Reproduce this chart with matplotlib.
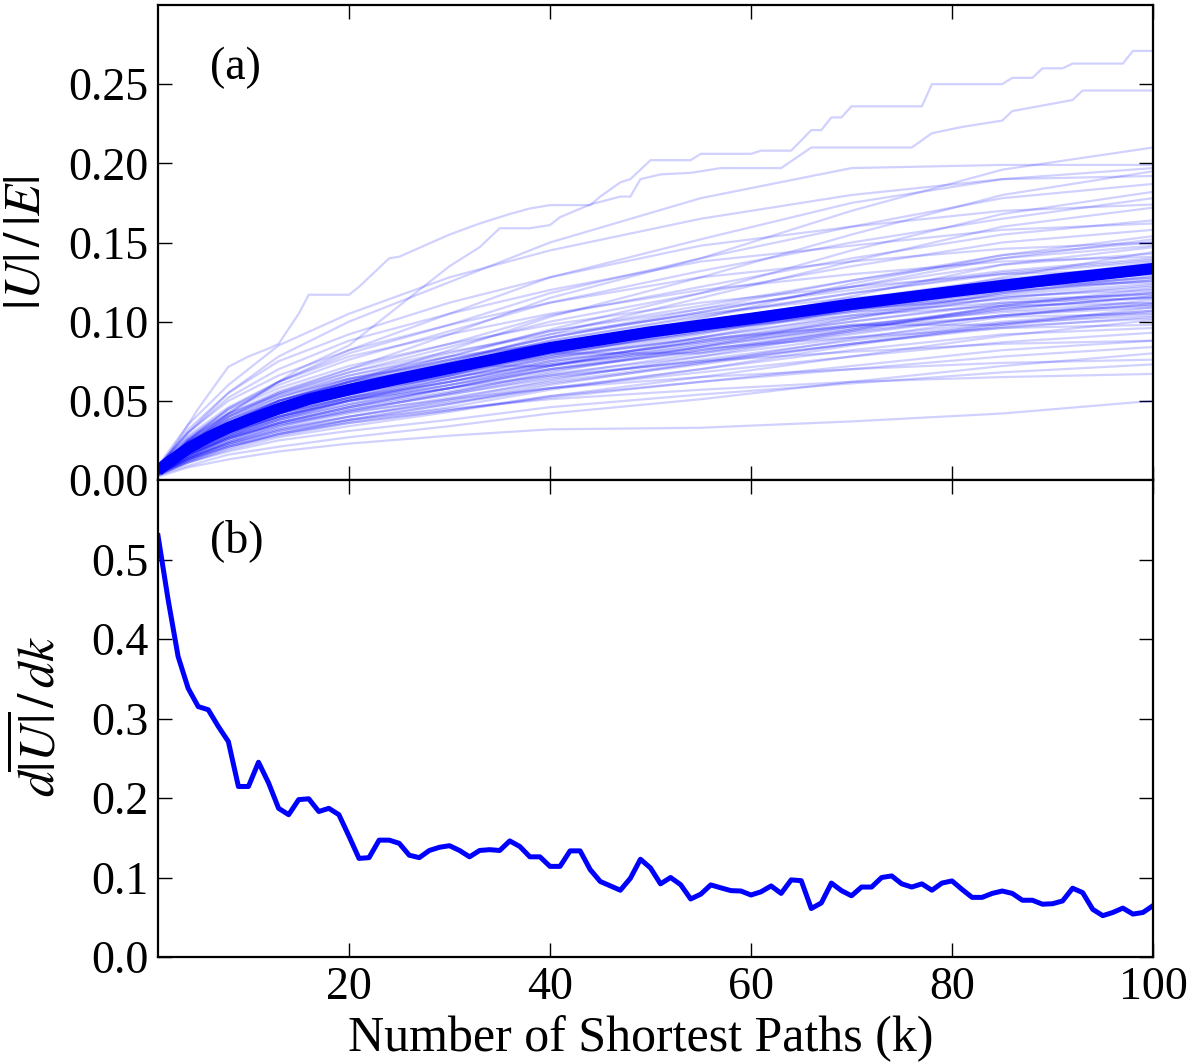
import matplotlib
matplotlib.use("Agg")
import matplotlib.pyplot as plt
import numpy as np

# ---------------- data ----------------
# k grid for individual trials (top panel)
K_TRIAL = [1, 4, 8, 13, 20, 30, 40, 55, 70, 85, 100]
# individual trial curves of |U|/|E|, in thousandths
TRIALS_MILLI = [
    [7, 24, 40, 55, 70, 92, 115, 140, 170, 196, 210],
    [8, 30, 55, 78, 100, 125, 150, 178, 197, 199, 199],
    [6, 22, 42, 62, 82, 105, 128, 152, 175, 190, 197],
    [5, 18, 33, 48, 62, 82, 103, 128, 155, 180, 195],
    [9, 35, 60, 85, 105, 128, 145, 165, 180, 190, 192],
    [5, 25, 45, 62, 80, 98, 118, 140, 160, 178, 187],
    [6, 20, 35, 50, 62, 78, 95, 118, 145, 168, 182],
    [7, 26, 45, 60, 76, 94, 112, 132, 150, 165, 178],
    [8, 32, 55, 75, 92, 112, 128, 148, 160, 170, 174],
    [5, 17, 30, 44, 58, 74, 92, 115, 138, 160, 172],
    [6, 25, 42, 56, 70, 86, 104, 122, 140, 155, 164],
    [9, 30, 52, 70, 88, 105, 120, 138, 148, 158, 162],
    [6, 22, 40, 54, 68, 84, 100, 118, 135, 150, 158],
    [5, 16, 28, 40, 52, 66, 82, 102, 124, 142, 154],
    [8, 30, 50, 66, 82, 98, 112, 128, 138, 146, 150],
    [6, 22, 36, 50, 64, 78, 94, 110, 126, 140, 148],
    [4, 15, 27, 38, 50, 64, 78, 96, 116, 136, 147],
    [7, 21, 36, 49, 62, 76, 90, 106, 122, 136, 143],
    [8, 28, 46, 62, 78, 92, 105, 120, 130, 138, 141],
    [5, 20, 34, 47, 60, 73, 88, 103, 118, 131, 139],
    [4, 14, 26, 36, 46, 58, 72, 90, 108, 126, 137],
    [6, 20, 34, 46, 58, 71, 85, 100, 114, 127, 135],
    [9, 27, 44, 58, 72, 86, 98, 112, 122, 130, 133],
    [5, 19, 32, 44, 56, 68, 82, 96, 110, 123, 131],
    [4, 13, 24, 34, 43, 55, 68, 84, 102, 118, 129],
    [6, 19, 32, 43, 54, 66, 80, 93, 107, 119, 127],
    [7, 25, 41, 55, 68, 81, 92, 105, 115, 122, 125],
    [5, 18, 30, 42, 52, 64, 77, 90, 103, 115, 123],
    [4, 13, 23, 32, 40, 51, 63, 78, 94, 110, 121],
    [6, 18, 30, 40, 51, 62, 75, 87, 100, 111, 119],
    [8, 24, 39, 52, 64, 76, 87, 99, 108, 114, 117],
    [5, 17, 29, 39, 50, 60, 73, 85, 97, 108, 116],
    [4, 12, 22, 30, 38, 48, 60, 74, 89, 103, 114],
    [7, 23, 37, 50, 62, 73, 84, 95, 104, 110, 112],
    [5, 16, 28, 38, 48, 58, 70, 81, 93, 104, 111],
    [3, 12, 21, 29, 37, 46, 57, 70, 85, 98, 109],
    [5, 16, 27, 36, 46, 56, 67, 78, 90, 100, 107],
    [7, 22, 35, 47, 58, 69, 78, 89, 97, 103, 105],
    [5, 15, 26, 35, 44, 54, 65, 75, 86, 96, 103],
    [3, 11, 19, 27, 34, 43, 53, 65, 78, 91, 101],
    [6, 20, 33, 44, 55, 65, 73, 83, 90, 96, 98],
    [4, 14, 23, 32, 40, 49, 58, 68, 78, 87, 93],
    [6, 19, 30, 40, 50, 58, 66, 75, 81, 86, 88],
    [4, 13, 21, 29, 36, 44, 53, 62, 70, 78, 84],
    [3, 9, 16, 21, 27, 34, 42, 51, 62, 72, 80],
    [5, 16, 26, 35, 43, 51, 58, 65, 70, 74, 76],
    [4, 11, 18, 25, 31, 38, 46, 54, 61, 68, 73],
    [4, 14, 23, 31, 38, 45, 51, 57, 62, 65, 67],
    [2, 8, 13, 18, 23, 28, 32, 33, 37, 42, 50],
    [6, 21, 35, 47, 58, 70, 82, 96, 110, 121, 128],
    [5, 17, 30, 42, 55, 69, 80, 80, 95, 110, 118],
    [7, 24, 38, 50, 62, 72, 72, 88, 102, 115, 122],
    [4, 15, 27, 38, 48, 60, 72, 86, 98, 98, 106],
    [6, 20, 33, 45, 56, 66, 77, 92, 110, 128, 144],
    [5, 18, 31, 42, 52, 64, 76, 90, 104, 118, 126],
    [7, 23, 36, 48, 60, 74, 88, 104, 118, 130, 138],
    [4, 14, 25, 36, 46, 58, 70, 84, 97, 109, 115],
    [6, 22, 38, 52, 66, 80, 94, 108, 120, 132, 140],
    [5, 16, 28, 39, 50, 62, 75, 87, 98, 106, 110],
    [8, 26, 42, 54, 66, 78, 86, 98, 108, 116, 120],
    [5, 19, 33, 45, 57, 70, 83, 97, 111, 124, 132],
    [4, 13, 24, 34, 44, 54, 64, 76, 88, 99, 104],
    [6, 21, 36, 50, 63, 76, 90, 106, 122, 140, 152],
    [5, 17, 29, 40, 51, 62, 74, 88, 100, 112, 118],
    [7, 25, 40, 53, 64, 74, 84, 96, 106, 112, 115],
    [4, 15, 26, 36, 45, 55, 66, 80, 92, 104, 111],
    [6, 20, 34, 47, 60, 75, 90, 108, 126, 142, 150],
    [5, 18, 30, 40, 50, 60, 70, 82, 95, 108, 116],
    [3, 11, 20, 29, 38, 48, 58, 70, 82, 92, 96],
    [6, 22, 36, 48, 60, 72, 84, 99, 112, 124, 130],
    [5, 16, 27, 37, 47, 58, 69, 82, 94, 104, 109],
    [7, 24, 38, 50, 61, 73, 85, 100, 113, 126, 134],
    [4, 14, 24, 33, 42, 52, 62, 74, 86, 97, 102],
    [5, 19, 32, 44, 55, 67, 79, 93, 106, 117, 124],
    [6, 20, 32, 42, 52, 62, 72, 84, 96, 107, 112],
    [4, 13, 22, 31, 40, 50, 61, 73, 86, 99, 107],
    [5, 17, 29, 41, 53, 66, 79, 94, 108, 121, 128],
    [3, 12, 21, 28, 36, 44, 52, 62, 72, 82, 88],
    [6, 21, 34, 46, 57, 68, 80, 94, 107, 119, 126],
]

# two highest trials, read in more detail
K_OUT1 = [1, 3, 5, 8, 10, 12, 13, 15, 16, 20, 21, 24, 25, 30, 33, 36, 38, 40, 44,
          45, 47, 48, 50, 54, 55, 60, 61, 64, 66, 67, 68, 69, 70, 77, 78, 85, 86,
          88, 89, 91, 92, 97, 98, 100]
OUT1 = [0.007, 0.025, 0.045, 0.0715, 0.078, 0.083, 0.086, 0.105, 0.117, 0.117,
        0.122, 0.140, 0.141, 0.155, 0.162, 0.168, 0.1715, 0.1736, 0.1736, 0.179,
        0.188, 0.190, 0.202, 0.202, 0.206, 0.206, 0.208, 0.208, 0.221, 0.221,
        0.229, 0.229, 0.236, 0.236, 0.250, 0.250, 0.254, 0.254, 0.260, 0.260,
        0.263, 0.263, 0.271, 0.271]
K_OUT2 = [1, 5, 10, 15, 20, 25, 30, 33, 35, 38, 40, 41, 44, 47, 48, 49, 51, 54,
          57, 63, 66, 76, 78, 81, 85, 86, 92, 93, 100]
OUT2 = [0.006, 0.030, 0.050, 0.070, 0.085, 0.110, 0.135, 0.147, 0.159, 0.159,
        0.161, 0.166, 0.174, 0.179, 0.179, 0.190, 0.193, 0.194, 0.197, 0.197,
        0.210, 0.210, 0.219, 0.223, 0.227, 0.233, 0.240, 0.246, 0.246]

# mean curve of |U|/|E|
K_MEAN = [1, 2, 4, 6, 8, 10, 13, 16, 20, 25, 30, 35, 40, 50, 60, 70, 80, 90, 100]
MEAN_U = [0.006, 0.011, 0.020, 0.027, 0.033, 0.038, 0.045, 0.051, 0.057, 0.064,
          0.0705, 0.077, 0.0835, 0.0935, 0.102, 0.111, 0.119, 0.1265, 0.1335]

# derivative d|U|/dk, k = 1..100
K_DERIV = list(range(1, 101))
DERIV = [0.530, 0.450, 0.378, 0.338, 0.315, 0.311, 0.290, 0.271, 0.2145, 0.2145,
         0.245, 0.219, 0.187, 0.179, 0.198, 0.199, 0.183, 0.187, 0.179, 0.152,
         0.124, 0.125, 0.147, 0.147, 0.143, 0.128, 0.125, 0.134, 0.138, 0.140,
         0.134, 0.126, 0.134, 0.135, 0.134, 0.146, 0.139, 0.126, 0.126, 0.114,
         0.114, 0.1335, 0.1335, 0.110, 0.095, 0.0895, 0.084, 0.099, 0.123, 0.112,
         0.092, 0.100, 0.091, 0.073, 0.079, 0.0907, 0.087, 0.0835, 0.083, 0.078,
         0.082, 0.0894, 0.080, 0.097, 0.096, 0.061, 0.068, 0.093, 0.0835, 0.077,
         0.088, 0.088, 0.100, 0.102, 0.092, 0.088, 0.092, 0.084, 0.093, 0.0957,
         0.085, 0.075, 0.075, 0.080, 0.083, 0.080, 0.0714, 0.0714, 0.0664, 0.067,
         0.0705, 0.0865, 0.081, 0.060, 0.052, 0.056, 0.0615, 0.054, 0.056, 0.0646]

TOP_YTICKS = [0.00, 0.05, 0.10, 0.15, 0.20, 0.25]
BOT_YTICKS = [0.0, 0.1, 0.2, 0.3, 0.4, 0.5]
XTICKS = [20, 40, 60, 80, 100]

# ---------------- style ----------------
plt.rcParams['font.family'] = ['Liberation Serif', 'DejaVu Serif']
plt.rcParams['mathtext.fontset'] = 'stix'

W, H = 1201, 1064
fig = plt.figure(figsize=(W / 100, H / 100), dpi=100)
left, right = 158 / W, 1153 / W
ax1 = fig.add_axes([left, 1 - 480 / H, right - left, (480 - 5) / H])
ax2 = fig.add_axes([left, 1 - 957 / H, right - left, (957 - 480) / H], sharex=ax1)

BLUE = '#0000ff'
FAINT = dict(color=BLUE, alpha=0.18, lw=1.6)
for tr in TRIALS_MILLI:
    ax1.plot(K_TRIAL, np.array(tr) / 1000.0, **FAINT)
ax1.plot(K_OUT1, OUT1, **FAINT)
ax1.plot(K_OUT2, OUT2, **FAINT)
ax1.plot(K_MEAN, MEAN_U, color=BLUE, lw=8.3, solid_capstyle='butt')

ax2.plot(K_DERIV, DERIV, color=BLUE, lw=3.6)

ax1.set_xlim(1, 100)
ax1.set_ylim(0, 0.30)
ax2.set_ylim(0, 0.6)
ax1.set_yticks(TOP_YTICKS)
ax1.set_yticklabels([f"{t:.2f}" for t in TOP_YTICKS])
ax2.set_yticks(BOT_YTICKS)
ax2.set_yticklabels([f"{t:.1f}" for t in BOT_YTICKS])
ax2.set_xticks(XTICKS)
ax2.set_xticklabels([str(t) for t in XTICKS])

for ax in (ax1, ax2):
    ax.tick_params(direction='in', length=10, width=1.0, top=True, right=True,
                   labelsize=33, pad=7)
    for s in ax.spines.values():
        s.set_linewidth(1.6)
ax1.tick_params(labelbottom=False)

ax1.set_ylabel(r'$|U|\,/\,|E|$', fontsize=37)
ax1.yaxis.set_label_coords(-0.108, 0.5)
ax2.set_ylabel(r'$d\overline{|U|}\,/\,dk$', fontsize=37)
ax2.yaxis.set_label_coords(-0.092, 0.505)
ax2.set_xlabel('Number of Shortest Paths (k)', fontsize=36)
ax2.xaxis.set_label_coords(0.485, -0.122)

ax1.text(0.052, 0.867, '(a)', transform=ax1.transAxes, fontsize=33, va='center', ha='left')
ax2.text(0.052, 0.874, '(b)', transform=ax2.transAxes, fontsize=33, va='center', ha='left')

fig.savefig('out.png', dpi=100)
